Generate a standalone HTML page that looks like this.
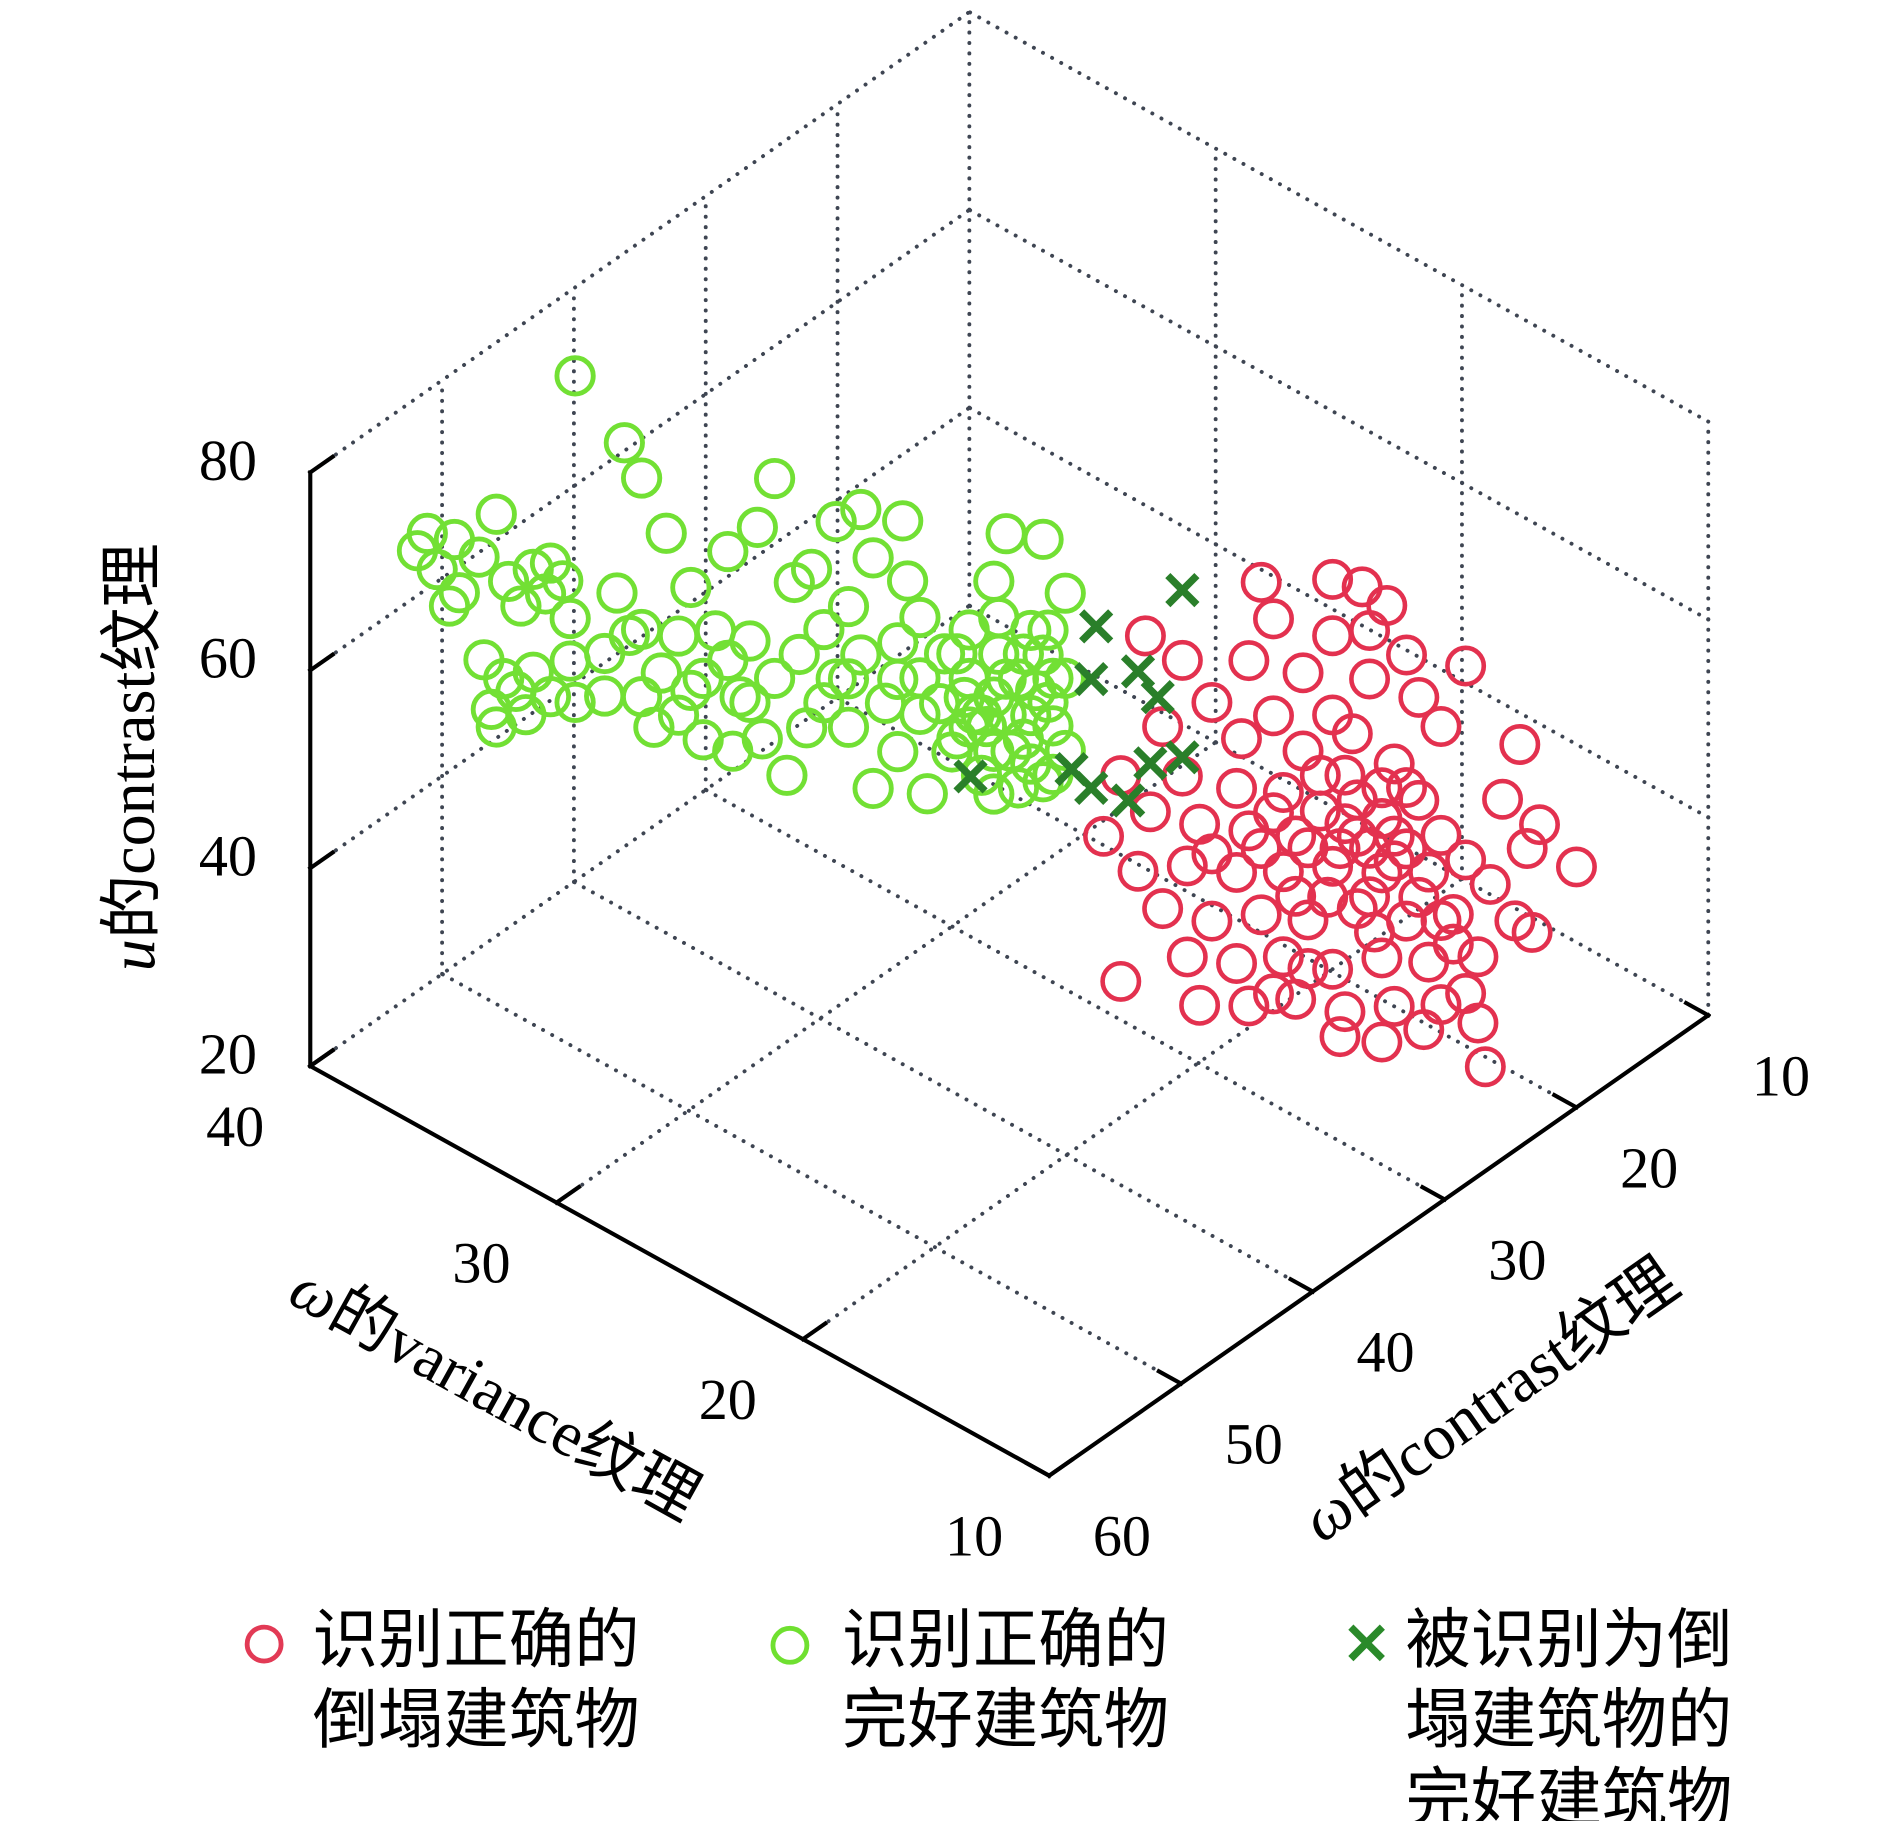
<!DOCTYPE html>
<html><head><meta charset="utf-8"><style>
html,body{margin:0;padding:0;background:#fff;}
svg{display:block;}
text{font-family:"Liberation Serif","Noto Serif CJK SC","Noto Sans CJK SC",serif;fill:#000;}
.cjk{font-family:"Liberation Serif","Noto Sans CJK SC",sans-serif;}
</style></head><body>
<svg id="chart" xmlns="http://www.w3.org/2000/svg" width="1890" height="1821" viewBox="0 0 1560 1503">
<g id="grid"></g>
<g id="axes"></g>
<g id="greenPts"></g>
<g id="redPts"></g>
<g id="crossPts"></g>
<g id="labels"></g>
<text transform="translate(127,625) rotate(-90)" text-anchor="middle" font-size="53" class="cjk"><tspan font-style="italic">u</tspan>的contrast纹理</text>
<text transform="translate(400,1165) rotate(29)" text-anchor="middle" font-size="53" class="cjk"><tspan font-style="italic">ω</tspan>的variance纹理</text>
<text transform="translate(1240,1170) rotate(-35)" text-anchor="middle" font-size="53" class="cjk"><tspan font-style="italic">ω</tspan>的contrast纹理</text>
<g>
<g>
<circle cx="218" cy="1357" r="14" fill="none" stroke="#e23a55" stroke-width="4"/>
<text x="258" y="1372" font-size="54" class="cjk">识别正确的</text>
<text x="258" y="1438" font-size="54" class="cjk">倒塌建筑物</text></g>
<g>
<circle cx="652" cy="1358" r="14" fill="none" stroke="#6fe030" stroke-width="4"/>
<text x="695" y="1372" font-size="54" class="cjk">识别正确的</text>
<text x="695" y="1438" font-size="54" class="cjk">完好建筑物</text></g>
<g>
<path d="M1115,1343 L1141,1369 M1141,1343 L1115,1369" stroke="#2a8a2a" stroke-width="6"/>
<text x="1160" y="1372" font-size="54" class="cjk">被识别为倒</text>
<text x="1160" y="1438" font-size="54" class="cjk">塌建筑物的</text>
<text x="1160" y="1503" font-size="54" class="cjk">完好建筑物</text></g>
</g>
</svg>
<script>
const zTicks=[20,40,60,80];
const varTicks=[10,20,30,40];
const conTicks=[10,20,30,40,50,60];
const greenVar=[40.6,41.0,40.2,39.5,39.3,39.7,37.8,38.5,37.3,36.3,35.6,36.8,35.8,35.1,34.8,38.3,37.5,38.0,37.0,36.3,35.6,36.6,37.8,34.8,34.6,32.6,31.9,32.9,32.4,30.9,29.9,28.4,27.2,26.5,31.1,31.9,30.4,29.4,28.4,27.5,27.9,26.5,25.5,25.7,25.0,24.0,23.0,22.5,21.3,21.1,20.6,23.5,24.5,27.0,26.0,23.5,22.5,20.3,21.5,24.0,23.0,22.0,20.6,19.6,18.6,17.6,17.1,15.6,14.7,18.6,17.6,16.6,15.6,17.9,16.9,16.1,15.2,14.7,19.1,18.1,16.6,15.6,19.8,18.8,17.4,16.1,15.2,17.4,14.7,33.4,29.4,28.2,30.4,28.9,25.2,21.5,33.4,31.9,18.1,17.1,16.4,15.9,15.4,17.6,18.6,16.4,15.4,19.1,18.4,17.1,16.1,15.2,19.3,17.6,20.6,21.5,23.5,24.5,27.5,29.9,31.4,34.6];
const greenZ=[63.7,61.4,60.6,64.6,59.5,57.6,69.5,64.2,63.4,66.0,67.6,61.6,64.2,66.5,63.1,54.1,53.3,49.5,52.7,55.6,54.1,50.9,48.0,58.8,87.9,83.9,81.3,68.3,64.7,77.1,73.0,78.7,82.8,88.7,62.7,59.2,59.4,64.5,67.7,70.9,64.7,68.5,72.3,79.3,81.6,87.8,90.4,86.2,91.6,85.8,82.8,79.9,76.2,61.7,59.4,67.7,62.9,65.4,68.0,71.9,75.7,72.2,76.7,80.5,84.3,90.6,96.1,97.6,93.4,79.4,78.9,82.1,85.9,75.5,74.4,79.1,79.3,77.5,72.6,70.3,71.1,73.1,75.2,77.2,83.5,87.7,84.1,87.2,84.8,57.2,58.3,58.8,67.4,70.0,65.3,79.0,61.5,66.0,76.4,77.8,76.3,81.9,81.4,73.4,74.5,84.9,88.7,81.2,76.1,81.4,74.2,74.4,71.0,69.1,73.0,75.3,72.6,68.8,64.7,62.6,56.8,54.9];
const greenCon=[50,50,50,50,50,50,50,50,50,50,50,50,50,50,50,50,50,50,50,50,50,50,50,50,50,50,50,50,50,50,50,50,50,50,50,50,50,50,50,50,50,50,50,50,50,50,50,50,50,50,50,50,50,50,50,50,50,50,50,50,50,50,50,50,50,50,50,50,50,50,50,50,50,50,50,50,50,50,50,50,50,50,50,50,50,50,50,50,50,50,50,50,50,50,50,50,50,50,50,50,50,50,50,50,50,50,50,50,50,50,50,50,50,50,50,50,50,50,50,50,50,50];
const redVar=[22.8,19.9,18.7,17.7,27.5,22.3,19.9,18.4,16.9,14.5,26.0,23.3,21.1,18.4,24.8,22.3,19.9,16.4,15.5,26.8,23.6,21.1,19.1,17.4,12.3,28.5,26.0,23.8,21.9,19.4,17.9,16.4,13.0,11.5,29.2,27.3,25.3,23.3,21.4,19.4,17.4,15.5,12.0,10.0,27.8,25.8,23.8,21.9,19.9,17.9,16.0,13.5,26.8,24.8,22.8,20.9,18.9,16.9,15.0,12.5,11.8,25.8,23.8,21.9,19.9,17.9,16.0,14.0,28.5,25.3,23.3,21.4,19.4,17.4,15.5,14.0,19.6,17.9,13.7,24.8,18.4,18.9,20.4,17.9,22.3,14.5,16.4,19.6,20.9,17.4,20.1,18.2,15.0,20.4,18.9,16.9,21.4,18.4,22.8,16.9,15.5,14.5,20.9,22.3,16.2];
const redZ=[55.4,59.7,60.6,60.1,43.5,52.4,54.0,56.6,56.2,58.4,43.1,46.8,48.6,51.7,40.5,42.6,46.0,52.6,50.9,35.3,38.5,40.7,45.2,44.5,53.5,28.0,31.4,33.2,35.4,40.6,41.4,42.2,47.0,46.5,20.9,26.0,27.5,29.6,31.7,35.7,37.2,39.9,43.4,44.3,19.3,22.6,24.7,27.4,30.7,32.8,35.5,37.7,16.9,18.4,21.8,23.9,27.8,29.3,32.6,35.4,35.2,13.4,15.5,18.8,20.3,24.2,26.4,29.7,7.2,9.2,11.9,15.2,16.7,20.0,22.8,23.0,13.9,15.7,19.0,25.2,34.6,38.8,39.2,38.3,32.8,38.8,32.4,32.9,31.2,34.7,27.3,26.4,29.6,35.6,35.1,36.6,25.6,29.7,28.5,42.8,31.3,25.3,19.0,14.5,19.3];
const redCon=[20,20,20,20,20,20,20,20,20,20,20,20,20,20,20,20,20,20,20,20,20,20,20,20,20,20,20,20,20,20,20,20,20,20,20,20,20,20,20,20,20,20,20,20,20,20,20,20,20,20,20,20,20,20,20,20,20,20,20,20,20,20,20,20,20,20,20,20,20,20,20,20,20,20,20,20,20,20,20,20,20,20,20,20,20,20,20,20,20,20,20,20,20,20,20,20,20,20,20,20,20,20,20,20,20];
const crossVar=[29.5,26.0,29.7,27.8,27.0,30.5,29.7,28.2,27.3,26.0,34.6];
const crossZ=[41.7,50.2,36.1,39.5,38.0,25.9,25.1,25.9,30.9,33.3,19.5];
const crossCon=[20,20,20,20,20,20,20,20,20,20,20];

const NS="http://www.w3.org/2000/svg";
function px(v,c){return 866-20.33*(v-10)-10.88*(c-60);}
function py(v,c,z){return 1218-11.27*(v-10)+7.6*(c-60)-8.167*(z-20);}
function mk(tag,parent,attrs){const e=document.createElementNS(NS,tag);for(const k in attrs)e.setAttribute(k,attrs[k]);parent.appendChild(e);return e;}
function line(parent,a,b,style){return mk('line',parent,Object.assign({x1:px(a[0],a[1]),y1:py(a[0],a[1],a[2]),x2:px(b[0],b[1]),y2:py(b[0],b[1],b[2])},style));}

const grid=document.getElementById('grid');
const dot={stroke:'#3e4552','stroke-width':3.2,'stroke-dasharray':'0.1 8.5','stroke-linecap':'round',fill:'none'};
[20,30,40].forEach(v=>{const l=line(grid,[v,60,20],[v,10,20],dot);

});
[10,20,30,40,50].forEach(c=>{const l=line(grid,[10,c,20],[40,c,20],dot);

});
[10,20,30,40,50].forEach(c=>{const l=line(grid,[40,c,20],[40,c,80],dot);

});
[40,60,80].forEach(z=>{const l=line(grid,[40,60,z],[40,10,z],dot);

});
[10,20,30].forEach(v=>{const l=line(grid,[v,10,20],[v,10,80],dot);

});
[40,60,80].forEach(z=>{const l=line(grid,[10,10,z],[40,10,z],dot);

});

const axes=document.getElementById('axes');
const solid={stroke:'#000','stroke-width':3.4,fill:'none','stroke-linecap':'square'};
let a1=line(axes,[40,60,20],[40,60,80],solid);


let a2=line(axes,[40,60,20],[10,60,20],solid);


let a3=line(axes,[10,60,20],[10,10,20],solid);



const labels=document.getElementById('labels');
function lab(x,y,t,name){const e=mk('text',labels,{x:x,y:y,'text-anchor':'middle','dominant-baseline':'central','font-size':48});e.textContent=t;

}
zTicks.forEach(z=>{const t=line(axes,[40,60,z],[40,58.3,z],solid);


lab(px(40,60)-68,py(40,60,z)-10,String(z),'z-tick-label');});
varTicks.forEach(v=>{const t=line(axes,[v,60,20],[v,58.3,20],solid);


lab(px(v,60)-62,py(v,60,20)+50,String(v),'x-tick-label');});
conTicks.forEach(c=>{const t=line(axes,[10,c,20],[10.9,c,20],solid);


lab(px(10,c)+60,py(10,c,20)+50,String(c),'y-tick-label');});

const gG=document.getElementById('greenPts');
greenVar.forEach((v,i)=>{const e=mk('circle',gG,{cx:px(v,greenCon[i]),cy:py(v,greenCon[i],greenZ[i]),r:15,fill:'none',stroke:'#72e034','stroke-width':4});

});
const gR=document.getElementById('redPts');
redVar.forEach((v,i)=>{const e=mk('circle',gR,{cx:px(v,redCon[i]),cy:py(v,redCon[i],redZ[i]),r:15,fill:'none',stroke:'#e3314f','stroke-width':3.8});

});
const gC=document.getElementById('crossPts');
crossVar.forEach((v,i)=>{const x=px(v,crossCon[i]),y=py(v,crossCon[i],crossZ[i]);
const e=mk('path',gC,{d:`M${x-12},${y-12}L${x+12},${y+12}M${x+12},${y-12}L${x-12},${y+12}`,stroke:'#2a7f2a','stroke-width':6,fill:'none'});

});
</script>
</body></html>
